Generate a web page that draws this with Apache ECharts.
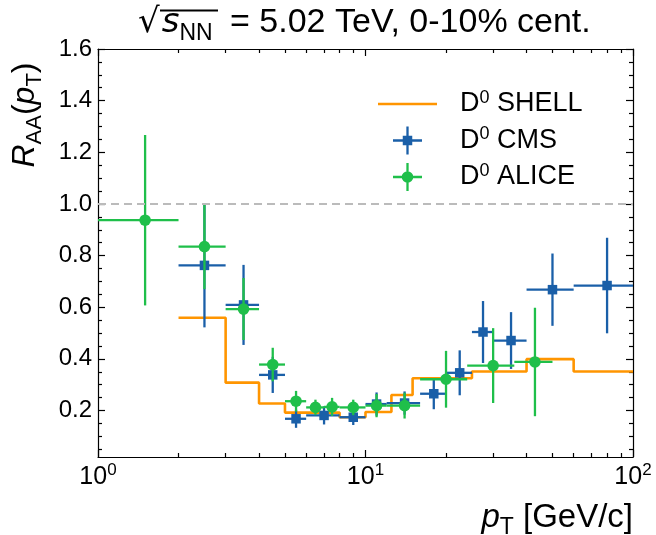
<!DOCTYPE html>
<html><head><meta charset="utf-8">
<script src="https://cdn.jsdelivr.net/npm/echarts@6/dist/echarts.min.js"></script>
<style>html,body{margin:0;padding:0;background:#fff}#c{width:656px;height:535px}</style>
</head><body><div id="c"></div>
<script>
// ---- data ----
const shellEdges = [2, 3, 4, 5, 8, 10, 12.5, 15, 25, 40, 60, 100];
const shellR     = [0.559, 0.308, 0.227, 0.192, 0.174, 0.194, 0.26, 0.325, 0.351, 0.399, 0.351];

const cmsPt  = [2.5, 3.5, 4.5, 5.5, 7, 9, 11, 14, 18, 22.5, 27.5, 35, 50, 80];
const cmsLo  = [2, 3, 4, 5, 6, 8, 10, 12, 16, 20, 25, 30, 40, 60];
const cmsHi  = [3, 4, 5, 6, 8, 10, 12, 16, 20, 25, 30, 40, 60, 100];
const cmsR   = [0.762, 0.609, 0.338, 0.168, 0.181, 0.174, 0.225, 0.229, 0.265, 0.346, 0.504, 0.471, 0.668, 0.684];
const cmsErr = [0.24, 0.155, 0.07, 0.035, 0.035, 0.03, 0.045, 0.045, 0.06, 0.087, 0.12, 0.11, 0.14, 0.185];

const alicePt  = [1.5, 2.5, 3.5, 4.5, 5.5, 6.5, 7.5, 9, 11, 14, 20, 30, 43];
const aliceLo  = [1, 2, 3, 4, 5, 6, 7, 8, 10, 12, 16, 24, 36];
const aliceHi  = [2, 3, 4, 5, 6, 7, 8, 10, 12, 16, 24, 36, 50];
const aliceR   = [0.937, 0.835, 0.593, 0.378, 0.236, 0.212, 0.214, 0.212, 0.219, 0.219, 0.321, 0.374, 0.388];
const aliceErr = [0.33, 0.165, 0.12, 0.065, 0.04, 0.03, 0.035, 0.03, 0.045, 0.05, 0.11, 0.145, 0.21];

const refLine = 1.0;
const xMajor = [1, 10, 100];
const xMinor = [2, 3, 4, 5, 6, 7, 8, 9, 20, 30, 40, 50, 60, 70, 80, 90];
const yMajor = [0.2, 0.4, 0.6, 0.8, 1.0, 1.2, 1.4, 1.6];
const yMinor = [0.05, 0.1, 0.15, 0.25, 0.3, 0.35, 0.45, 0.5, 0.55, 0.65, 0.7, 0.75, 0.85, 0.9, 0.95,
                1.05, 1.1, 1.15, 1.25, 1.3, 1.35, 1.45, 1.5, 1.55];
const names = ['D0 SHELL', 'D0 CMS', 'D0 ALICE'];

// ---- styling ----
const FONT = 'Liberation Sans';
const ORANGE = '#ff9500', BLUE = '#1a5fa8', GREEN = '#1fbf4a';
const chart = echarts.init(document.getElementById('c'), null, {renderer: 'canvas'});

function xAx(pos, vals, len, withLabels, withLine) {
  return {
    type: 'log', logBase: 10, min: 1, max: 100, position: pos, gridIndex: 0,
    axisLine: {show: withLine, onZero: false, lineStyle: {color: '#000', width: 1.2}},
    axisTick: {show: true, inside: true, length: len, customValues: vals, lineStyle: {color: '#000', width: 1.2}},
    axisLabel: withLabels ? {
      show: true, customValues: xMajor, margin: 5,
      formatter: v => '{b|10}{e|' + Math.round(Math.log10(v)) + '}',
      rich: {
        b: {fontFamily: FONT, fontSize: 25, color: '#000', lineHeight: 30},
        e: {fontFamily: FONT, fontSize: 17, color: '#000', lineHeight: 17, verticalAlign: 'top'}
      }
    } : {show: false},
    splitLine: {show: false}, minorTick: {show: false}, minorSplitLine: {show: false}
  };
}
function yAx(pos, vals, len, withLabels, withLine) {
  return {
    type: 'value', min: 0.02, max: 1.6, position: pos, gridIndex: 0,
    axisLine: {show: withLine, onZero: false, lineStyle: {color: '#000', width: 1.2}},
    axisTick: {show: true, inside: true, length: len, customValues: vals, lineStyle: {color: '#000', width: 1.2}},
    axisLabel: withLabels ? {
      show: true, customValues: yMajor, margin: 6,
      formatter: v => v.toFixed(1),
      fontFamily: FONT, fontSize: 24, color: '#000'
    } : {show: false},
    splitLine: {show: false}, minorTick: {show: false}, minorSplitLine: {show: false}
  };
}

function makeRender(kind) {
  return function (params, api) {
    const x = api.value(0), y = api.value(1), lo = api.value(2), hi = api.value(3), e = api.value(4);
    const c = api.coord([x, y]);
    const l = api.coord([lo, y]), r = api.coord([hi, y]);
    const t = api.coord([x, y + e]), b = api.coord([x, y - e]);
    const col = api.visual('color');
    const ls = {stroke: col, lineWidth: 2.3};
    const marker = kind === 'square'
      ? {type: 'rect', shape: {x: c[0] - 4.75, y: c[1] - 4.75, width: 9.5, height: 9.5}, style: {fill: col}}
      : {type: 'circle', shape: {cx: c[0], cy: c[1], r: 5.8}, style: {fill: col}};
    return {type: 'group', children: [
      {type: 'line', shape: {x1: l[0], y1: l[1], x2: r[0], y2: r[1]}, style: ls},
      {type: 'line', shape: {x1: t[0], y1: t[1], x2: b[0], y2: b[1]}, style: ls},
      marker
    ]};
  };
}

const shellData = shellEdges.map((e, i) => [e, shellR[Math.min(i, shellR.length - 1)]]);
const cmsData = cmsPt.map((p, i) => [p, cmsR[i], cmsLo[i], cmsHi[i], cmsErr[i]]);
const aliceData = alicePt.map((p, i) => [p, aliceR[i], aliceLo[i], aliceHi[i], aliceErr[i]]);

// legend icons (77x28 box)
const BOX = 'M0,0 L0.01,0 L0,0.01 Z M77,28 L76.99,28 L77,27.99 Z ';
const iconLine = 'path://' + BOX + 'M0,12.75 H59 V15.25 H0 Z';
const iconCMS = 'path://' + BOX + 'M15,12.85 H44 V15.15 H15 Z M28.35,0 H30.65 V28 H28.35 Z M24.75,9.25 H34.25 V18.75 H24.75 Z';
const iconALICE = 'path://' + BOX + 'M15,12.85 H44 V15.15 H15 Z M28.35,0 H30.65 V28 H28.35 Z M23.7,14 A5.8,5.8 0 1,1 35.3,14 A5.8,5.8 0 1,1 23.7,14 Z';

const sub = (fs) => ({fontFamily: FONT, fontSize: fs, color: '#000', lineHeight: fs, verticalAlign: 'bottom'});

const option = {
  animation: false,
  backgroundColor: '#fff',
  grid: {left: 98, right: 23, top: 49, bottom: 78, containLabel: false},
  xAxis: [
    xAx('bottom', xMajor, 7, true, true),
    xAx('bottom', xMinor, 4, false, false),
    xAx('top', xMajor, 7, false, true),
    xAx('top', xMinor, 4, false, false)
  ],
  yAxis: [
    yAx('left', yMajor, 7, true, true),
    yAx('left', yMinor, 4, false, false),
    yAx('right', yMajor, 7, false, true),
    yAx('right', yMinor, 4, false, false)
  ],
  legend: {
    orient: 'vertical', left: 378, top: 89, padding: 0, itemWidth: 77, itemHeight: 28, itemGap: 7.5,
    selectedMode: false,
    formatter: n => '{n|D}{s|0}{n|' + n.slice(2) + '}',
    textStyle: {
      fontFamily: FONT, fontSize: 27, color: '#000',
      rich: {
        n: {fontFamily: FONT, fontSize: 27, color: '#000', lineHeight: 30},
        s: {fontFamily: FONT, fontSize: 18, color: '#000', lineHeight: 18, verticalAlign: 'top'}
      }
    },
    data: [
      {name: names[0], icon: iconLine, itemStyle: {color: ORANGE, borderWidth: 0}},
      {name: names[1], icon: iconCMS, itemStyle: {color: BLUE, borderWidth: 0}},
      {name: names[2], icon: iconALICE, itemStyle: {color: GREEN, borderWidth: 0}}
    ]
  },
  series: [
    {
      name: names[0], type: 'line', step: 'end', data: shellData, symbol: 'none',
      xAxisIndex: 0, yAxisIndex: 0, z: 2,
      lineStyle: {color: ORANGE, width: 2.6}, itemStyle: {color: ORANGE},
      markLine: {
        silent: true, symbol: 'none', label: {show: false}, animation: false,
        lineStyle: {type: [8, 5], color: '#bbbbbb', width: 2},
        data: [{yAxis: refLine}]
      }
    },
    {
      name: names[1], type: 'custom', renderItem: makeRender('square'), data: cmsData,
      dimensions: ['pt', 'r', 'lo', 'hi', 'err'], encode: {x: 0, y: 1},
      xAxisIndex: 0, yAxisIndex: 0, z: 3, itemStyle: {color: BLUE}
    },
    {
      name: names[2], type: 'custom', renderItem: makeRender('circle'), data: aliceData,
      dimensions: ['pt', 'r', 'lo', 'hi', 'err'], encode: {x: 0, y: 1},
      xAxisIndex: 0, yAxisIndex: 0, z: 4, itemStyle: {color: GREEN}
    }
  ],
  graphic: [
    {
      type: 'text', left: 138, top: 6, z: 10,
      style: {
        text: '{r|√}{i|s}{sub|NN}{n| = 5.02 TeV, 0-10% cent.}',
        rich: {
          r: {fontFamily: 'DejaVu Sans', fontSize: 34, color: '#000', lineHeight: 44},
          i: {fontFamily: 'DejaVu Sans', fontSize: 34, fontStyle: 'italic', color: '#000', lineHeight: 44, padding: [0, 0, 0, 2]},
          sub: {fontFamily: FONT, fontSize: 23, color: '#000', lineHeight: 23, verticalAlign: 'bottom', padding: [0, 8, 0, 0]},
          n: {fontFamily: FONT, fontSize: 34, color: '#000', lineHeight: 44}
        }
      }
    },
    {type: 'line', z: 10, shape: {x1: 160, y1: 10.5, x2: 218, y2: 10.5}, style: {stroke: '#000', lineWidth: 2}},
    {
      type: 'text', x: 25, y: 115, rotation: Math.PI / 2, z: 10,
      style: {
        text: '{i|R}{sub|AA}{n|(}{i|p}{sub|T}{n|)}', align: 'center', verticalAlign: 'middle',
        rich: {
          i: {fontFamily: FONT, fontSize: 32, fontStyle: 'italic', color: '#000', lineHeight: 42},
          n: {fontFamily: FONT, fontSize: 32, color: '#000', lineHeight: 42},
          sub: sub(22)
        }
      }
    },
    {
      type: 'text', x: 633, y: 518, z: 10,
      style: {
        text: '{i|p}{sub|T}{n| [GeV/c]}', align: 'right', verticalAlign: 'middle',
        rich: {
          i: {fontFamily: FONT, fontSize: 33, fontStyle: 'italic', color: '#000', lineHeight: 42},
          n: {fontFamily: FONT, fontSize: 33, color: '#000', lineHeight: 42},
          sub: sub(23)
        }
      }
    }
  ]
};
chart.setOption(option);
</script>
</body></html>
